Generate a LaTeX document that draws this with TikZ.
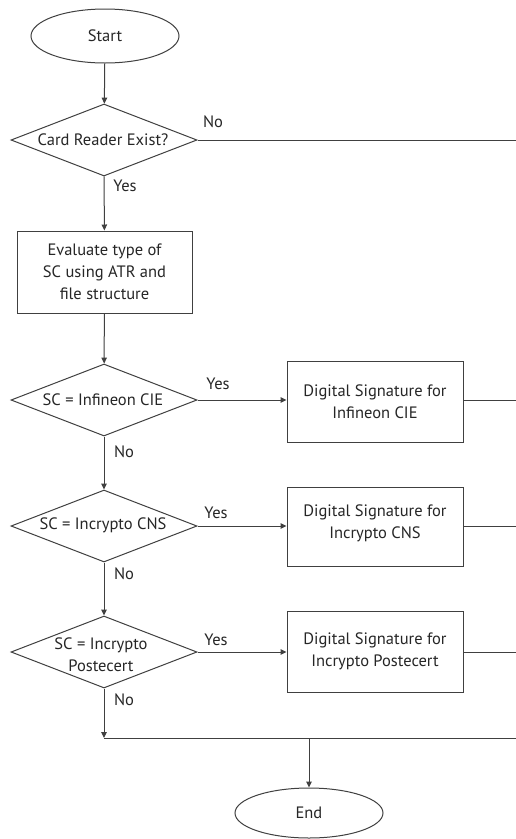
\documentclass[tikz,border=0pt]{standalone}
\usepackage{fontspec}
\setmainfont{PT Sans}
\usetikzlibrary{shapes.geometric,arrows.meta}
\definecolor{ln}{HTML}{404040}
\definecolor{tx}{HTML}{262626}
\tikzset{
  every node/.style={text=tx, font=\fontsize{16.5}{22}\selectfont},
  line/.style={draw=ln, line width=1pt},
  arr/.style={line, -{Triangle[length=6pt,width=5.5pt]}},
  term/.style={ellipse, draw=ln, line width=1pt, minimum width=148pt, minimum height=54pt, inner sep=0pt},
  decide/.style={diamond, draw=ln, line width=1pt, minimum width=186pt, minimum height=72pt, inner sep=0pt},
  proc/.style={rectangle, draw=ln, line width=1pt, align=center, inner sep=0pt},
  lbl/.style={inner sep=0pt}
}
\begin{document}
\begin{tikzpicture}[x=1pt,y=-1pt]
\useasboundingbox[fill=white] (0,0) rectangle (516,839);
% nodes
\node[term] (start) at (105,36) {Start};
\node[decide] (d1) at (104,140) {};
\node[lbl] at (103,140) {Card Reader Exist?};
\node[proc, minimum width=175pt, minimum height=82pt] (p1) at (104.5,272) {Evaluate type of\\SC using ATR and\\file structure};
\node[decide] (d2) at (104,400) {};
\node[lbl] at (103,400) {SC = Infineon CIE};
\node[proc, minimum width=176pt, minimum height=81pt] (b2) at (375,401.5) {Digital Signature for\\Infineon CIE};
\node[decide] (d3) at (104,526) {};
\node[lbl] at (103,525) {SC = Incrypto CNS};
\node[proc, minimum width=176pt, minimum height=79pt, anchor=north] (b3) at (375,487) {};
\node[lbl, align=center] at (375,523) {Digital Signature for\\Incrypto CNS};
\node[decide] (d4) at (104,652) {};
\node[lbl, align=center] at (101,655) {SC = Incrypto\\Postecert};
\node[proc, minimum width=176pt, minimum height=81pt] (b4) at (375,651.5) {Digital Signature for\\Incrypto Postecert};
\node[term, minimum height=50pt] (end) at (309,813) {End};
% helper coordinates
\coordinate (r1) at (516,140);
\coordinate (r2) at (516,400);
\coordinate (r3) at (516,526);
\coordinate (r4) at (516,652);
\coordinate (m) at (104,738);
\coordinate (mr) at (516,738);
\coordinate (mc) at (309,738);
% connectors
\draw[arr] (start) -- (d1);
\draw[line] (d1.east) -- (r1);
\draw[arr] (d1) -- (p1);
\draw[arr] (p1) -- (d2);
\draw[arr] (d2.east) -- (d2.east -| b2.west);
\draw[line] (b2.east |- r2) -- (r2);
\draw[arr] (d2) -- (d3);
\draw[arr] (d3.east) -- (d3.east -| b3.west);
\draw[line] (b3.east |- r3) -- (r3);
\draw[arr] (d3) -- (d4);
\draw[arr] (d4.east) -- (d4.east -| b4.west);
\draw[line] (b4.east |- r4) -- (r4);
\draw[arr] (d4) -- (m);
\draw[line] (m) -- (mr);
\draw[arr] (mc) -- (end);
% labels
\node[lbl] at (213,122) {No};
\node[lbl] at (125,186) {Yes};
\node[lbl] at (218,384) {Yes};
\node[lbl] at (124,452) {No};
\node[lbl] at (216,513) {Yes};
\node[lbl] at (124,574) {No};
\node[lbl] at (216,640) {Yes};
\node[lbl] at (124,700) {No};
\end{tikzpicture}
\end{document}
